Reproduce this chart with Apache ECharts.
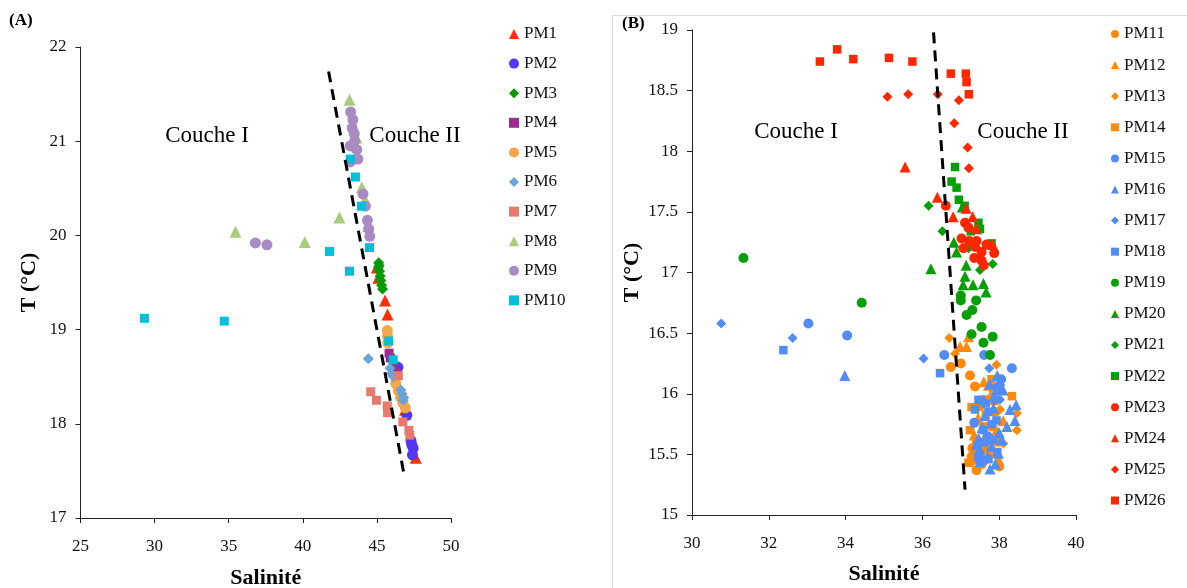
<!DOCTYPE html>
<html>
<head>
<meta charset="utf-8">
<script src="https://cdn.jsdelivr.net/npm/echarts@6/dist/echarts.min.js"></script>
<style>
html,body{margin:0;padding:0;background:#fff;}
#c{width:1187px;height:588px;}
</style>
</head>
<body>
<div id="c"></div>
<script>
// ---------- Panel A data: [Salinité, T (°C)] ----------
const namesA = ['PM1','PM2','PM3','PM4','PM5','PM6','PM7','PM8','PM9','PM10'];
const PM1 = [[45.0,19.66],[45.1,19.55],[45.55,19.31],[45.72,19.16],[46.9,18.15],[47.62,17.64]];
const PM2 = [[46.42,18.6],[47.02,18.09],[47.35,17.78],[47.3,17.82],[47.45,17.74],[47.4,17.67]];
const PM3 = [[45.12,19.71],[45.15,19.68],[45.1,19.66],[45.18,19.62],[45.22,19.57],[45.27,19.52],[45.32,19.47],[45.38,19.43]];
const PM4 = [[45.82,18.75],[45.9,18.7],[46.1,18.62],[46.3,18.55]];
const PM5 = [[45.7,18.99],[45.72,18.93],[45.74,18.86],[46.27,18.43],[46.45,18.35],[46.6,18.28],[46.75,18.22],[46.92,18.17]];
const PM6 = [[44.42,18.69],[45.88,18.59],[45.98,18.53],[46.12,18.5],[46.62,18.36],[46.7,18.32],[46.8,18.28],[46.78,18.25]];
const PM7 = [[44.58,18.34],[44.97,18.25],[45.7,18.19],[45.72,18.12],[46.45,18.51],[46.75,18.02],[47.16,17.93],[47.22,17.88]];
const PM8 = [[43.15,21.44],[43.62,21.04],[43.98,20.51],[44.2,20.38],[44.42,20.1],[42.47,20.19],[35.46,20.04],[40.13,19.93]];
const PM9 = [[36.8,19.92],[37.58,19.9],[43.23,21.31],[43.38,21.23],[43.33,21.14],[43.47,21.08],[43.5,21.0],[43.2,20.95],[43.64,20.91],[43.72,20.81],[43.2,20.78],[44.06,20.44],[44.22,20.31],[44.36,20.16],[44.44,20.07],[44.52,19.99]];
const PM10 = [[29.31,19.12],[34.7,19.09],[41.8,19.83],[43.15,19.62],[43.2,20.81],[43.55,20.62],[43.96,20.31],[44.5,19.87],[45.8,18.88],[46.1,18.68]];
const dashA = [[41.74,21.74],[46.87,17.43]];

// ---------- Panel B data ----------
const namesB = ['PM11','PM12','PM13','PM14','PM15','PM16','PM17','PM18','PM19','PM20','PM21','PM22','PM23','PM24','PM25','PM26'];
const PM11 = [[36.74,16.22],[37.0,16.25],[37.24,16.15],[37.37,16.06],[37.41,15.37],[37.28,15.48],[37.72,15.95],[37.41,15.57],[37.8,15.73],[37.32,15.45],[37.5,15.9],[37.65,15.62],[37.9,15.85],[38.0,15.4],[37.55,15.42],[37.3,15.55]];
const PM12 = [[36.98,16.39],[37.15,16.39],[37.2,16.47],[37.72,16.07],[37.8,16.0],[37.98,15.46],[37.59,15.57],[37.93,15.7],[37.35,15.66],[37.45,15.8],[37.7,15.55],[37.85,15.95],[38.1,15.78],[37.35,15.52],[37.6,16.1]];
const PM13 = [[36.7,16.46],[36.85,16.33],[37.93,16.24],[38.46,15.7],[38.46,15.84],[38.02,15.87],[38.11,15.59],[37.9,15.5]];
const PM14 = [[38.33,15.98],[37.28,15.89],[37.24,15.7],[37.2,15.43],[37.59,15.73],[37.76,15.51],[37.57,15.95],[37.85,16.05],[37.4,15.62],[37.65,15.83],[37.95,15.6],[37.5,15.5],[37.8,16.12]];
const PM15 = [[33.03,16.58],[34.04,16.48],[36.57,16.32],[37.61,16.32],[38.33,16.21],[37.35,15.76],[37.89,15.95],[38.05,16.12],[37.7,15.65],[37.95,16.05],[37.6,15.45]];
const PM16 = [[33.98,16.15],[38.02,16.11],[37.93,16.03],[38.1,16.03],[38.44,15.91],[38.28,15.87],[38.41,15.78],[38.2,15.73],[38.07,15.62],[37.98,15.51],[37.76,15.38],[37.46,15.63],[37.5,15.54],[37.8,15.57],[37.63,15.82],[37.55,15.72],[37.7,15.48],[37.85,15.88],[37.9,15.42],[37.6,15.95],[38.0,15.68],[37.4,15.58],[37.75,16.08],[37.95,16.15]];
const PM17 = [[30.76,16.58],[32.62,16.46],[36.03,16.29],[37.74,16.21],[38.02,15.95],[37.67,15.6]];
const PM18 = [[32.38,16.36],[36.46,16.17],[37.46,15.95],[37.37,15.87],[37.72,15.85],[37.93,15.78],[37.59,15.7],[37.72,15.46],[37.85,15.62],[37.5,15.43],[37.55,15.6],[37.8,15.75],[37.65,15.92],[37.95,15.52],[37.45,15.48]];
const PM19 = [[31.34,17.12],[34.42,16.75],[37.0,16.81],[37.0,16.77],[37.4,16.77],[37.3,16.69],[37.15,16.65],[37.54,16.55],[37.28,16.49],[37.83,16.47],[37.59,16.42],[37.76,16.32]];
const PM20 = [[36.22,17.03],[36.82,17.25],[36.89,17.17],[37.14,17.06],[37.11,16.97],[37.06,16.9],[37.32,16.9],[37.59,16.91],[37.66,16.84],[37.04,17.54]];
const PM21 = [[36.16,17.55],[36.52,17.34],[37.5,17.02],[37.83,17.07],[37.2,17.2]];
const PM22 = [[36.85,17.87],[36.76,17.75],[36.89,17.7],[36.95,17.6],[37.1,17.55],[37.46,17.41],[37.5,17.36],[37.8,17.24],[37.26,17.34]];
const PM23 = [[36.61,17.55],[37.11,17.41],[37.2,17.37],[37.02,17.28],[37.07,17.2],[37.22,17.26],[37.37,17.21],[37.41,17.26],[37.35,17.12],[37.54,17.17],[37.54,17.1],[37.6,17.06],[37.87,17.16],[37.67,17.23]];
const PM24 = [[35.55,17.87],[36.39,17.62],[36.8,17.46],[37.14,17.53],[37.31,17.46],[37.41,17.36],[37.83,17.23]];
const PM25 = [[35.09,18.45],[35.63,18.47],[36.4,18.47],[36.95,18.42],[36.83,18.23],[37.18,18.03],[37.21,17.86]];
const PM26 = [[33.33,18.74],[33.78,18.84],[34.2,18.76],[35.13,18.77],[35.74,18.74],[36.74,18.64],[37.13,18.64],[37.15,18.57],[37.21,18.47]];
const dashB = [[36.29,18.98],[37.11,15.21]];

// ---------- styles ----------
const FONT = '"Liberation Serif", "Times New Roman", serif';
const dataA = [PM1,PM2,PM3,PM4,PM5,PM6,PM7,PM8,PM9,PM10];
const symA = ['triangle','circle','diamond','rect','circle','diamond','rect','triangle','circle','rect'];
const colA = ['#ff2d0a','#5536f5','#079a07','#9b2d91','#f5a54a','#6aa3d5','#e87a6d','#a8cc7c','#a98bc3','#00c0d9'];
const dataB = [PM11,PM12,PM13,PM14,PM15,PM16,PM17,PM18,PM19,PM20,PM21,PM22,PM23,PM24,PM25,PM26];
const symB = ['circle','triangle','diamond','rect'];
const colB = ['#ff8a0a','#528cf6','#06a006','#ff2600'];
const sizeA = {triangle:12, circle:11, diamond:11, rect:9};
const sizeB = {triangle:11, circle:10, diamond:10, rect:8.5};

const series = [];
namesA.forEach((n,i)=>{
  series.push({name:n,type:'scatter',xAxisIndex:0,yAxisIndex:0,data:dataA[i],
    symbol:symA[i],symbolSize:sizeA[symA[i]],itemStyle:{color:colA[i],opacity:1},z:2,animation:false});
});
namesB.forEach((n,i)=>{
  const s = symB[i%4];
  series.push({name:n,type:'scatter',xAxisIndex:1,yAxisIndex:1,data:dataB[i],
    symbol:s,symbolSize:sizeB[s],itemStyle:{color:colB[Math.floor(i/4)],opacity:1},z:2,animation:false});
});
[[dashA,0],[dashB,1]].forEach(([d,k])=>{
  series.push({type:'line',xAxisIndex:k,yAxisIndex:k,data:d,symbol:'none',silent:true,z:5,animation:false,
    lineStyle:{color:'#000',width:3,type:[11,7]}});
});

function xAxis(idx,min,max,interval,gap){
  return {type:'value',gridIndex:idx,min,max,interval,
    name:'Salinité',nameLocation:'middle',nameGap:gap,
    nameTextStyle:{fontFamily:FONT,fontSize:22,fontWeight:'bold',color:'#000'},
    axisLine:{show:true,onZero:false,lineStyle:{color:'#222',width:1}},
    axisTick:{show:true,inside:false,length:5,lineStyle:{color:'#222'}},
    axisLabel:{fontFamily:FONT,fontSize:17,color:'#111',margin:20},
    splitLine:{show:false}};
}
function yAxis(idx,min,max,interval,gap){
  return {type:'value',gridIndex:idx,min,max,interval,
    name:'T (°C)',nameLocation:'middle',nameGap:gap,nameRotate:90,
    nameTextStyle:{fontFamily:FONT,fontSize:22,fontWeight:'bold',color:'#000'},
    axisLine:{show:true,onZero:false,lineStyle:{color:'#222',width:1}},
    axisTick:{show:true,inside:false,length:5,lineStyle:{color:'#222'}},
    axisLabel:{fontFamily:FONT,fontSize:17,color:'#111',margin:14},
    splitLine:{show:false}};
}

const legendText = {fontFamily:FONT,fontSize:17,color:'#111',lineHeight:18};
const option = {
  backgroundColor:'#fff',
  animation:false,
  grid:[
    {left:80.5,top:47,width:370.5,height:471,containLabel:false,outerBoundsMode:'none'},
    {left:692,top:30,width:384,height:485,containLabel:false,outerBoundsMode:'none'}
  ],
  xAxis:[xAxis(0,25,50,5,49), xAxis(1,30,40,2,48)],
  yAxis:[yAxis(0,17,22,1,40), yAxis(1,15,19,0.5,49)],
  legend:[
    {data:namesA,orient:'vertical',left:509,top:25,padding:0,itemWidth:10,itemHeight:10,itemGap:11.6,
      textStyle:legendText,selectedMode:false},
    {data:namesB,orient:'vertical',left:1111,top:25,padding:0,itemWidth:8,itemHeight:8,itemGap:13.1,
      textStyle:legendText,selectedMode:false}
  ],
  graphic:[
    {type:'rect',shape:{x:612.5,y:15.5,width:580,height:580},style:{fill:'none',stroke:'#dcdcdc',lineWidth:1},z:-1,silent:true},
    {type:'text',left:9,top:12,style:{text:'(A)',font:'bold 17px '+FONT,fill:'#000'}},
    {type:'text',left:622,top:15,style:{text:'(B)',font:'bold 17px '+FONT,fill:'#000'}},
    {type:'text',x:207,y:136,style:{text:'Couche I',font:'23px '+FONT,fill:'#000',align:'center',verticalAlign:'middle'}},
    {type:'text',x:415,y:136,style:{text:'Couche II',font:'23px '+FONT,fill:'#000',align:'center',verticalAlign:'middle'}},
    {type:'text',x:796,y:132,style:{text:'Couche I',font:'23px '+FONT,fill:'#000',align:'center',verticalAlign:'middle'}},
    {type:'text',x:1023,y:132,style:{text:'Couche II',font:'23px '+FONT,fill:'#000',align:'center',verticalAlign:'middle'}}
  ],
  series
};
const chart = echarts.init(document.getElementById('c'),null,{renderer:'canvas'});
chart.setOption(option);
</script>
</body>
</html>
